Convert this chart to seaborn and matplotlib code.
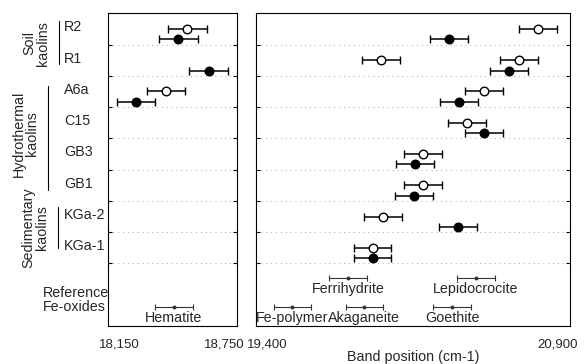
import numpy as np
import pandas as pd
import matplotlib
matplotlib.use("Agg")
import matplotlib.pyplot as plt
from matplotlib.transforms import blended_transform_factory, ScaledTranslation
import seaborn as sns

# ---- data -------------------------------------------------------------
samples = ["R2", "R1", "A6a", "C15", "GB3", "GB1", "KGa-2", "KGa-1"]
# low-energy band (18,150-18,750 cm-1)
low_open = [18520, np.nan, 18421, np.nan, np.nan, np.nan, np.nan, np.nan]
low_filled = [18478, 18620, 18282, np.nan, np.nan, np.nan, np.nan, np.nan]
# high-energy band (19,400-20,900 cm-1)
high_open = [20746, 20658, 20491, 20410, 20200, 20200, 20009, 19958]
high_filled = [20323, 20610, 20370, 20490, 20159, 20157, 20367, 19958]
# additional open-symbol band for R1
extra_sample = ["R1"]
extra_open = [19997]
band_err = 90

ref_names = ["Hematite", "Ferrihydrite", "Lepidocrocite", "Fe-polymer", "Akaganeite", "Goethite"]
ref_centers = [18458, 19842, 20451, 19575, 19918, 20338]
ref_halfwidth = [90, 90, 90, 88, 88, 90]
ref_tier = [1, 0, 0, 1, 1, 1]

groups = ["Soil\nkaolins", "Hydrothermal\nkaolins", "Sedimentary\nkaolins"]
low_ticks = [18150, 18750]
high_ticks = [19400, 20900]
x_label = "Band position (cm-1)"

# ---- style ------------------------------------------------------------
sns.set_theme(style="white")
plt.rcParams["font.family"] = ["Liberation Sans", "DejaVu Sans"]
plt.rcParams["font.size"] = 10

fig = plt.figure(figsize=(5.84, 3.64), dpi=100)
W, H = 584, 364
def frame(x0, x1, y0, y1):
    return [x0 / W, 1 - y1 / H, (x1 - x0) / W, (y1 - y0) / H]

ax1 = fig.add_axes(frame(107.7, 236.7, 13.3, 326))
ax2 = fig.add_axes(frame(255.7, 570, 13.3, 326))

rows = {s: i for i, s in enumerate(samples)}
df = pd.DataFrame({
    "sample": samples,
    "row": np.arange(len(samples)) + 0.5,
    "low_open": low_open, "low_filled": low_filled,
    "high_open": high_open, "high_filled": high_filled,
})
extra = pd.DataFrame({"sample": extra_sample, "value": extra_open})
extra["row"] = [rows[s] + 0.5 for s in extra_sample]

filled_shift = 0.33

def draw_band(ax, x, y, filled):
    ok = ~np.isnan(np.asarray(x, dtype=float))
    ax.errorbar(np.asarray(x)[ok], np.asarray(y)[ok], xerr=band_err, fmt="none",
                ecolor="black", elinewidth=1.1, capsize=2.6, capthick=1.0, zorder=2)
    sub = pd.DataFrame({"x": np.asarray(x)[ok], "y": np.asarray(y)[ok]})
    sns.scatterplot(data=sub, x="x", y="y", ax=ax, s=38, marker="o",
                    color="black" if filled else "white",
                    edgecolor="black", linewidth=1.0, zorder=3, legend=False)

for ax, o, f in [(ax1, "low_open", "low_filled"), (ax2, "high_open", "high_filled")]:
    draw_band(ax, df[o], df["row"], False)
    draw_band(ax, df[f], df["row"] + filled_shift, True)
draw_band(ax2, extra["value"], extra["row"], False)

# reference Fe-oxide ranges
tier_y = [8.47, 9.40]
for name, c, hw, t in zip(ref_names, ref_centers, ref_halfwidth, ref_tier):
    ax = ax1 if c < 19000 else ax2
    y = tier_y[t]
    ax.errorbar([c], [y], xerr=hw, fmt="o", color="#333333", ms=1.8,
                elinewidth=0.8, capsize=2.4, capthick=0.8, zorder=2)
    ax.text(c, y + 0.34, name, ha="center", va="center", fontsize=10.3)

# axes decoration
for ax, lim, ticks in [(ax1, (18150, 18750), low_ticks), (ax2, (19400, 20900), high_ticks)]:
    ax.set_xlim(*lim)
    ax.set_ylim(10, 0)
    ax.set_xticks(ticks)
    ax.set_xticklabels([f"{t:,}" for t in ticks])
    ax.set_yticks(np.arange(1, 9))
    ax.set_yticklabels([])
    ax.set_xlabel("")
    ax.set_ylabel("")
    ax.tick_params(axis="y", direction="in", length=3, width=0.8, left=True, right=True,
                   color="black")
    ax.tick_params(axis="x", length=0, pad=9, labelsize=9.5)
    ax.grid(axis="y", color="#a8a8a8", linestyle=(0, (1, 4)), linewidth=0.7)
    ax.grid(axis="x", visible=False)
    for sp in ax.spines.values():
        sp.set_color("black")
        sp.set_linewidth(0.8)
    # nudge edge labels inward
    labs = ax.get_xticklabels()
    for lab, dx in zip(labs, [12, -12]):
        lab.set_transform(lab.get_transform() + ScaledTranslation(dx / 100, 0, fig.dpi_scale_trans))

ax2.set_xlabel(x_label, fontsize=10.3)
ax2.xaxis.set_label_coords(0.5, -0.078)
ax2.xaxis.label.set_va("top")

# sample labels and grouping annotation on the left
tr = blended_transform_factory(fig.transFigure, ax1.transData)
for s, i in rows.items():
    fig.text(64 / W, i + 0.45, s, transform=tr, ha="left", va="center", fontsize=10.3)
fig.text(43 / W, 9.16, "Reference\nFe-oxides", transform=tr, ha="left", va="center",
         fontsize=10.3, linespacing=1.0)

group_text = [(36.5, 0.96), (25.5, 3.85), (35.5, 6.85)]
group_bar = [(59.3, 0.25, 1.62), (48.0, 2.32, 5.64), (58.3, 6.21, 7.52)]
for g, (gx, gy), (bx, b0, b1) in zip(groups, group_text, group_bar):
    fig.text(gx / W, gy, g, transform=tr, rotation=90, ha="center", va="center",
             multialignment="center", fontsize=10.3, linespacing=0.95)
    ax1.plot([bx / W, bx / W], [b0, b1], transform=tr, color="black", lw=0.8, clip_on=False)

fig.savefig("out.png", dpi=100)
